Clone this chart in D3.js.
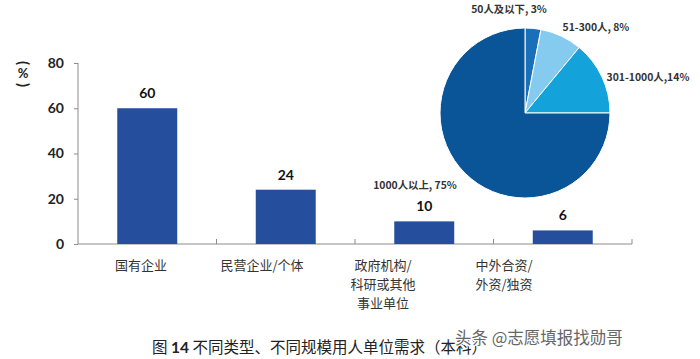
<!DOCTYPE html>
<html><head><meta charset="utf-8">
<script src="https://cdn.jsdelivr.net/npm/d3@7/dist/d3.min.js"></script>
<style>
html,body{margin:0;padding:0;background:#fff;}
svg{display:block;}
</style></head>
<body>
<svg id="c" width="700" height="359"></svg>
<script>
const categories = [["国有企业"], ["民营企业/个体"], ["政府机构/", "科研或其他", "事业单位"], ["中外合资/", "外资/独资"]];
const barValues = [60, 24, 10, 6];
const yTicks = [0, 20, 40, 60, 80];
const pieLabels = ["50人及以下, 3%", "51-300人, 8%", "301-1000人,14%", "1000人以上, 75%"];
const pieValues = [3, 8, 14, 75];
const pieColors = ["#1a70b8", "#85caef", "#14a2da", "#0a5598"];
const titleParts = ["图 ", "14", " 不同类型、不同规模用人单位需求（本科）"];
const watermark = "头条 @志愿填报找勋哥";

const svg = d3.select("#c");
const cjk = "'Noto Sans CJK SC', 'Noto Sans', sans-serif";
const num = "Lato, 'Open Sans', sans-serif";

const x = d3.scaleBand().domain(d3.range(barValues.length)).range([78, 632]).paddingInner(0.567).paddingOuter(0.2835);
const xl = d3.scaleBand().domain(d3.range(barValues.length)).range([80.5, 564.5]);
const y = d3.scaleLinear().domain([0, 80]).range([244, 63]);

// y axis
const ya = svg.append("g").attr("transform", "translate(78,0)")
  .call(d3.axisLeft(y).tickValues(yTicks).tickSize(4).tickPadding(10));
ya.select(".domain").attr("stroke", "#8c8c8c").attr("d", "M0,63V244");
ya.selectAll(".tick line").attr("stroke", "#8c8c8c");
ya.selectAll(".tick text").attr("font-family", num).attr("font-weight", "bold").attr("font-size", 14).attr("fill", "#222");

// x axis line and ticks
const bx = d3.scaleLinear().domain([0, barValues.length]).range([78, 632]);
svg.append("line").attr("x1", 78).attr("x2", 632).attr("y1", y(0)).attr("y2", y(0)).attr("stroke", "#8c8c8c");
svg.selectAll(".xt").data(d3.range(1, barValues.length + 1)).enter().append("line")
  .attr("x1", d => bx(d)).attr("x2", d => bx(d)).attr("y1", y(0)).attr("y2", y(0) - 5).attr("stroke", "#8c8c8c");

// y label (%)
const yl = svg.append("g").attr("fill", "#222").attr("font-family", num).attr("font-weight", "bold");
yl.append("text").attr("transform", "translate(23,63) rotate(90)").attr("text-anchor", "middle").attr("dy", "0.33em").attr("font-size", 15).text("(");
yl.append("text").attr("x", 23).attr("y", 78).attr("text-anchor", "middle").attr("font-size", 13).text("%");
yl.append("text").attr("transform", "translate(23,85) rotate(90)").attr("text-anchor", "middle").attr("dy", "0.33em").attr("font-size", 15).text(")");

// bars
svg.selectAll(".bar").data(barValues).enter().append("rect")
  .attr("x", (d, i) => x(i)).attr("width", x.bandwidth())
  .attr("y", d => y(d)).attr("height", d => y(0) - y(d)).attr("fill", "#254e9c");
svg.selectAll(".vl").data(barValues).enter().append("text")
  .attr("x", (d, i) => x(i) + x.bandwidth() / 2).attr("y", d => y(d) - 10)
  .attr("text-anchor", "middle").attr("font-family", num).attr("font-weight", "bold").attr("font-size", 14).attr("fill", "#111")
  .text(d => d);

// category labels
categories.forEach((lines, i) => {
  const t = svg.append("text").attr("font-family", cjk).attr("font-size", 13).attr("fill", "#333").attr("text-anchor", "middle");
  lines.forEach((ln, j) => t.append("tspan").attr("x", xl(i) + xl.bandwidth() / 2).attr("y", 270 + j * 19).text(ln));
});

// pie
const cx = 525, cy = 113, r = 85;
const pie = d3.pie().sort(null).value(d => d);
const arc = d3.arc().innerRadius(0).outerRadius(r);
const pg = svg.append("g").attr("transform", `translate(${cx},${cy})`);
pg.selectAll("path").data(pie(pieValues)).enter().append("path")
  .attr("d", arc).attr("fill", (d, i) => pieColors[i]).attr("stroke", "#fff").attr("stroke-width", 1);

const labelOffsets = [[-16, -100], [71, -82], [123, -32], [-110, 76]];
pg.selectAll(".pl").data(pieLabels).enter().append("text")
  .attr("x", (d, i) => labelOffsets[i][0]).attr("y", (d, i) => labelOffsets[i][1])
  .attr("text-anchor", "middle").attr("font-family", cjk).attr("font-weight", "bold").attr("font-size", 10.4).attr("fill", "#333")
  .text(d => d);

// title
const tt = svg.append("text").attr("x", 152).attr("y", 353).attr("font-family", cjk).attr("font-size", 15.5).attr("fill", "#222");
titleParts.forEach((p, i) => tt.append("tspan").attr("font-weight", i === 1 ? "bold" : "normal").attr("font-family", i === 1 ? num : cjk).text(p));

// watermark
svg.append("text").attr("x", 455).attr("y", 344).attr("font-family", cjk).attr("font-size", 16.5)
  .attr("fill", "#666").attr("stroke", "#fff").attr("stroke-width", 2.5).attr("paint-order", "stroke")
  .text(watermark);
</script>
</body></html>
